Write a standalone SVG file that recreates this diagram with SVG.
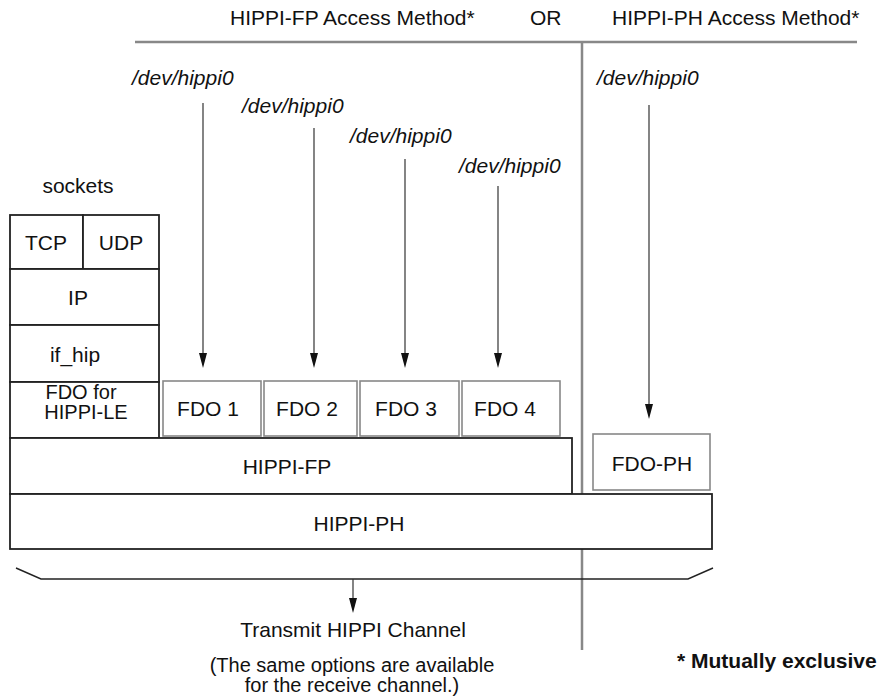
<svg xmlns="http://www.w3.org/2000/svg" width="882" height="700" viewBox="0 0 882 700">
<defs>
<style>
text{font-family:"Liberation Sans",Arial,sans-serif;font-size:21px;fill:#111}
.it{font-style:italic}
.c{text-anchor:middle}
.b{font-weight:bold}
.s{font-size:20px}
.box{fill:#fff;stroke:#222;stroke-width:1.8}
.fdo{fill:#fff;stroke:#888;stroke-width:1.6}
.sep{stroke:#888;stroke-width:2.5;fill:none}
.ln{stroke:#333;stroke-width:1.2;fill:none}
.hd{fill:#111;stroke:none}
</style>
</defs>

<g id="header">
<text x="230" y="25">HIPPI-FP Access Method*</text>
<text x="530" y="25">OR</text>
<text x="612" y="25">HIPPI-PH Access Method*</text>
<line class="sep" x1="135" y1="42" x2="857" y2="42"/>
<line class="sep" x1="582" y1="42" x2="582" y2="650"/>
</g>

<g id="labels">
<text class="it" x="132" y="85">/dev/hippi0</text>
<text class="it" x="242" y="113">/dev/hippi0</text>
<text class="it" x="350" y="143">/dev/hippi0</text>
<text class="it" x="459" y="173">/dev/hippi0</text>
<text class="it" x="597" y="85">/dev/hippi0</text>
<text x="78" y="193" class="c">sockets</text>
</g>

<g id="tcp"><rect class="box" x="10" y="215" width="73" height="54"/><text class="c" x="46" y="250">TCP</text></g>
<g id="udp"><rect class="box" x="83" y="215" width="76" height="54"/><text class="c" x="121" y="250">UDP</text></g>
<g id="ip"><rect class="box" x="10" y="269" width="149" height="56"/><text class="c" x="78" y="305">IP</text></g>
<g id="if_hip"><rect class="box" x="10" y="325" width="149" height="57"/><text class="c" x="75" y="362">if_hip</text></g>
<g id="fdo_le"><rect class="box" x="10" y="382" width="149" height="56"/><text class="c s" x="81" y="399">FDO for</text><text class="c s" x="86" y="419">HIPPI-LE</text></g>
<g id="fdo1"><rect class="fdo" x="163" y="381" width="98" height="55"/><text class="c" x="208" y="416">FDO 1</text></g>
<g id="fdo2"><rect class="fdo" x="264" y="381" width="93" height="55"/><text class="c" x="307" y="416">FDO 2</text></g>
<g id="fdo3"><rect class="fdo" x="360" y="381" width="99" height="55"/><text class="c" x="406" y="416">FDO 3</text></g>
<g id="fdo4"><rect class="fdo" x="462" y="381" width="98" height="55"/><text class="c" x="505" y="416">FDO 4</text></g>
<g id="fdo_ph"><rect class="fdo" x="593" y="434" width="117" height="56"/><text class="c" x="652" y="471">FDO-PH</text></g>
<g id="hippi_fp"><rect class="box" x="10" y="438" width="562" height="56"/><text class="c" x="287" y="474">HIPPI-FP</text></g>
<g id="hippi_ph"><rect class="box" x="10" y="494" width="702" height="55"/><text class="c" x="359" y="531">HIPPI-PH</text></g>

<g id="connectors">
<line class="ln" x1="203" y1="103" x2="203" y2="354"/><path class="hd" d="M199,353 L207,353 L203,368 Z"/>
<line class="ln" x1="314" y1="128" x2="314" y2="354"/><path class="hd" d="M310,353 L318,353 L314,368 Z"/>
<line class="ln" x1="405" y1="159" x2="405" y2="354"/><path class="hd" d="M401,353 L409,353 L405,368 Z"/>
<line class="ln" x1="498" y1="186" x2="498" y2="354"/><path class="hd" d="M494,353 L502,353 L498,368 Z"/>
<line class="ln" x1="649" y1="105" x2="649" y2="405"/><path class="hd" d="M645,404 L653,404 L649,419 Z"/>
<polyline points="16,568 41,579 688,579 713,568" fill="none" stroke="#222" stroke-width="1.4"/>
<line class="ln" x1="353" y1="579" x2="353" y2="599"/><path class="hd" d="M349,598 L357,598 L353,613 Z"/>
</g>

<g id="footer">
<text class="c" x="353" y="637">Transmit HIPPI Channel</text>
<text class="c s" x="352" y="672">(The same options are available</text>
<text class="c s" x="352" y="692">for the receive channel.)</text>
<text class="b" x="677" y="668">* Mutually exclusive</text>
</g>
</svg>
